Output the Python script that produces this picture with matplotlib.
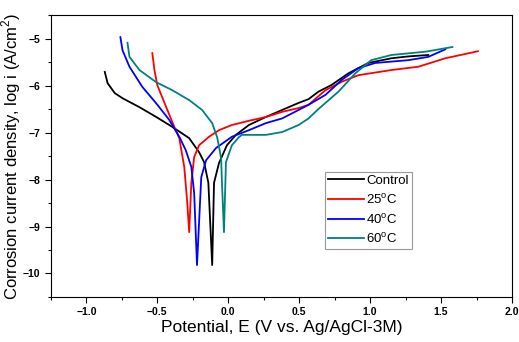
import matplotlib.pyplot as plt
from matplotlib.ticker import MultipleLocator

plt.rcParams['font.family'] = ['Liberation Sans', 'DejaVu Sans']

# Tafel curves: potential (V) / log i
ctrl_E = [-0.87, -0.85, -0.80, -0.745, -0.626, -0.507, -0.394, -0.275, -0.205, -0.17,
          -0.14, -0.113, -0.1, -0.065, -0.009, 0.054, 0.146, 0.265, 0.38, 0.496, 0.566,
          0.636, 0.727, 0.847, 0.987, 1.15, 1.27, 1.41]
ctrl_logi = [-5.71, -5.95, -6.16, -6.27, -6.46, -6.67, -6.88, -7.12, -7.42, -7.63,
             -8.07, -9.82, -8.07, -7.65, -7.27, -7.05, -6.84, -6.67, -6.52, -6.37, -6.29,
             -6.13, -5.99, -5.74, -5.52, -5.42, -5.38, -5.35]

t25_E = [-0.535, -0.52, -0.50, -0.437, -0.38, -0.345, -0.31, -0.29, -0.275, -0.26, -0.24,
         -0.205, -0.135, -0.065, 0.026, 0.146, 0.265, 0.38, 0.496, 0.566, 0.685, 0.80,
         0.917, 1.15, 1.34, 1.53, 1.76]
t25_logi = [-5.31, -5.67, -5.99, -6.46, -6.88, -7.12, -7.73, -8.44, -9.12, -8.07, -7.52,
            -7.27, -7.09, -6.95, -6.84, -6.75, -6.67, -6.56, -6.48, -6.41, -6.1, -5.92,
            -5.78, -5.67, -5.60, -5.42, -5.27]

t40_E = [-0.76, -0.745, -0.696, -0.605, -0.507, -0.416, -0.345, -0.30, -0.26, -0.24,
         -0.22, -0.19, -0.156, -0.086, 0.026, 0.146, 0.265, 0.38, 0.496, 0.566, 0.685,
         0.80, 0.917, 1.036, 1.27, 1.41, 1.53]
t40_logi = [-4.97, -5.25, -5.6, -6.03, -6.38, -6.73, -7.09, -7.37, -7.73, -8.29,
            -9.82, -7.95, -7.59, -7.33, -7.09, -6.95, -6.8, -6.7, -6.52, -6.41, -6.2,
            -5.88, -5.63, -5.52, -5.46, -5.39, -5.23]

t60_E = [-0.71, -0.696, -0.626, -0.507, -0.394, -0.275, -0.184, -0.113, -0.078, -0.065,
         -0.05, -0.044, -0.03, -0.016, 0.026, 0.075, 0.096, 0.265, 0.38, 0.496, 0.566,
         0.636, 0.777, 0.896, 1.008, 1.15, 1.39, 1.58]
t60_logi = [-5.09, -5.39, -5.67, -5.93, -6.1, -6.31, -6.52, -6.8, -7.1, -7.3,
            -7.55, -8.07, -9.12, -7.63, -7.27, -7.1, -7.05, -7.05, -6.99, -6.84, -6.7,
            -6.5, -6.13, -5.74, -5.46, -5.35, -5.28, -5.18]

labels = ['Control', '25$^{\\mathregular{o}}$C', '40$^{\\mathregular{o}}$C', '60$^{\\mathregular{o}}$C']
colors = ['black', 'red', 'blue', '#008080']

fig = plt.figure(figsize=(5.19, 3.42), dpi=100)
ax = fig.add_axes([0.098, 0.1316, 0.8885, 0.8244])

series = [(ctrl_E, ctrl_logi), (t25_E, t25_logi), (t40_E, t40_logi), (t60_E, t60_logi)]
for (E, li), lab, c in zip(series, labels, colors):
    ax.plot(E, li, color=c, lw=1.3, label=lab)

ax.set_xlim(-1.25, 2.0)
ax.set_ylim(-10.5, -4.5)
ax.xaxis.set_major_locator(MultipleLocator(0.5))
ax.xaxis.set_minor_locator(MultipleLocator(0.25))
ax.yaxis.set_major_locator(MultipleLocator(1))
ax.yaxis.set_minor_locator(MultipleLocator(0.5))
ax.tick_params(which='both', direction='out', top=False, right=False, width=0.8)
ax.tick_params(which='major', length=4, labelsize=7.5)
ax.tick_params(which='minor', length=2.5)
for lbl in ax.get_xticklabels() + ax.get_yticklabels():
    lbl.set_fontweight('bold')
for s in ax.spines.values():
    s.set_linewidth(0.8)

ax.set_xlabel('Potential, E (V vs. Ag/AgCl-3M)', fontsize=12.5)
ax.set_ylabel('Corrosion current density, log i (A/cm$^{\\mathregular{2}}$)', fontsize=12)
ax.xaxis.set_label_coords(0.5, -0.08)
ax.yaxis.set_label_coords(-0.06, 0.5)

leg = ax.legend(loc='upper left', bbox_to_anchor=(0.594, 0.445), fontsize=9.5, frameon=True,
                fancybox=False, edgecolor='gray', handlelength=2.7, handletextpad=0.2,
                borderpad=0.25, labelspacing=0.43, borderaxespad=0)
leg.get_frame().set_linewidth(0.8)

fig.savefig('out.png', dpi=100)
